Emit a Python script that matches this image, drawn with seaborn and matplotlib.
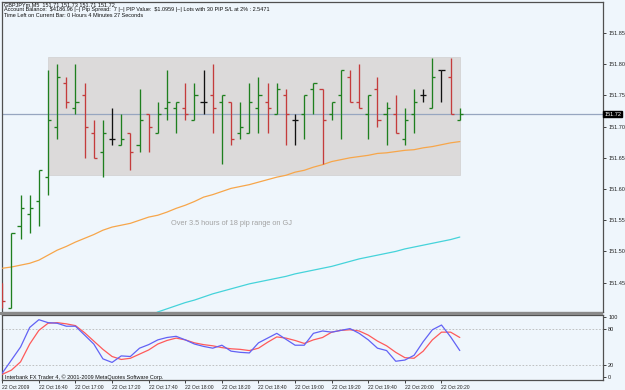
import numpy as np
import pandas as pd
import matplotlib
matplotlib.use("Agg")
import matplotlib.pyplot as plt
from matplotlib.patches import Rectangle
import seaborn as sns

# ---------------- data ----------------
bar_times = ["16:20", "16:25", "16:30", "16:35", "16:40", "16:45", "16:50", "16:55",
             "17:00", "17:05", "17:10", "17:15", "17:20", "17:25", "17:30", "17:35",
             "17:40", "17:45", "17:50", "17:55", "18:00", "18:05", "18:10", "18:15",
             "18:20", "18:25", "18:30", "18:35", "18:40", "18:45", "18:50", "18:55",
             "19:00", "19:05", "19:10", "19:15", "19:20", "19:25", "19:30", "19:35",
             "19:40", "19:45", "19:50", "19:55", "20:00", "20:05", "20:10", "20:15",
             "20:20", "20:25", "20:30"]
opens = [151.45, 151.41, 151.54, 151.56, 151.58, 151.62, 151.70, 151.77, 151.73, 151.75,
         151.69, 151.66, 151.68, 151.67, 151.69, 151.67, 151.72, 151.69, 151.73, 151.73,
         151.73, 151.71, 151.74, 151.75, 151.74, 151.74, 151.69, 151.69, 151.73, 151.74,
         151.72, 151.75, 151.71, 151.72, 151.76, 151.76, 151.72, 151.75, 151.78, 151.74,
         151.72, 151.76, 151.72, 151.72, 151.68, 151.72, 151.75, 151.73, 151.79, 151.78,
         151.71]
highs = [151.45, 151.53, 151.59, 151.59, 151.63, 151.79, 151.80, 151.78, 151.80, 151.77,
         151.71, 151.71, 151.73, 151.72, 151.69, 151.76, 151.72, 151.74, 151.79, 151.74,
         151.77, 151.77, 151.79, 151.80, 151.75, 151.74, 151.74, 151.77, 151.78, 151.77,
         151.77, 151.76, 151.72, 151.75, 151.77, 151.76, 151.74, 151.79, 151.79, 151.80,
         151.75, 151.78, 151.74, 151.75, 151.73, 151.76, 151.76, 151.81, 151.79, 151.81,
         151.73]
lows = [151.41, 151.41, 151.52, 151.53, 151.54, 151.59, 151.68, 151.73, 151.72, 151.65,
        151.65, 151.62, 151.67, 151.67, 151.63, 151.66, 151.66, 151.69, 151.71, 151.69,
        151.71, 151.71, 151.72, 151.69, 151.64, 151.67, 151.68, 151.69, 151.69, 151.69,
        151.72, 151.67, 151.67, 151.68, 151.72, 151.64, 151.71, 151.68, 151.74, 151.73,
        151.68, 151.70, 151.67, 151.69, 151.67, 151.69, 151.74, 151.73, 151.74, 151.72,
        151.71]
closes = [151.42, 151.53, 151.57, 151.57, 151.63, 151.71, 151.78, 151.74, 151.74, 151.70,
          151.65, 151.69, 151.68, 151.68, 151.66, 151.71, 151.70, 151.72, 151.74, 151.74,
          151.72, 151.75, 151.74, 151.73, 151.75, 151.68, 151.70, 151.74, 151.75, 151.73,
          151.76, 151.72, 151.71, 151.75, 151.77, 151.71, 151.74, 151.79, 151.74, 151.73,
          151.75, 151.71, 151.73, 151.69, 151.71, 151.74, 151.75, 151.78, 151.79, 151.72,
          151.72]
ma_orange = [151.473, 151.475, 151.478, 151.481, 151.486, 151.494, 151.502, 151.508, 151.515, 151.521,
             151.527, 151.534, 151.539, 151.542, 151.545, 151.550, 151.555, 151.558, 151.563, 151.569,
             151.574, 151.580, 151.587, 151.591, 151.596, 151.601, 151.604, 151.607, 151.611, 151.615,
             151.619, 151.622, 151.627, 151.630, 151.635, 151.639, 151.644, 151.647, 151.650, 151.652,
             151.654, 151.657, 151.658, 151.660, 151.662, 151.663, 151.666, 151.668, 151.671, 151.674,
             151.676]
nan = float("nan")
ma_cyan = [nan] * 16 + [
    151.396, 151.403, 151.408, 151.413, 151.418, 151.422, 151.427, 151.432, 151.436, 151.440,
    151.444, 151.448, 151.451, 151.454, 151.457, 151.460, 151.464, 151.467, 151.470, 151.473,
    151.476, 151.480, 151.484, 151.488, 151.491, 151.494, 151.497, 151.500, 151.504, 151.507,
    151.510, 151.513, 151.516, 151.519, 151.523]
stoch_main = [6, 28, 50, 83, 96, 91, 90, 85, 85, 70,
              55, 30, 24, 35, 34, 48, 54, 62, 66, 68,
              62, 55, 51, 48, 53, 43, 41, 40, 57, 65,
              73, 63, 53, 53, 73, 77, 75, 78, 81, 73,
              62, 48, 44, 26, 28, 36, 59, 79, 87, 67,
              44]
stoch_signal = [4, 11, 25, 55, 78, 90, 91, 89, 86, 74,
                60, 46, 34, 29, 31, 38, 45, 55, 61, 65,
                62, 57, 54, 52, 49, 47, 46, 44, 48, 58,
                67, 65, 61, 56, 62, 66, 75, 78, 79, 77,
                70, 60, 52, 41, 32, 31, 43, 62, 75, 75,
                66]
price_ticks = [151.45, 151.50, 151.55, 151.60, 151.65, 151.70, 151.75, 151.80, 151.85]
stoch_ticks = [0, 20, 80, 100]
stoch_levels = [20, 80]
time_tick_bars = [0, 4, 8, 12, 16, 20, 24, 28, 32, 36, 40, 44, 48]
time_tick_labels = ["22 Oct 2009", "22 Oct 16:40", "22 Oct 17:00", "22 Oct 17:20",
                    "22 Oct 17:40", "22 Oct 18:00", "22 Oct 18:20", "22 Oct 18:40",
                    "22 Oct 19:00", "22 Oct 19:20", "22 Oct 19:40", "22 Oct 20:00",
                    "22 Oct 20:20"]
range_box = {"start": 5, "end": 50, "low": 151.622, "high": 151.812}
current_price = 151.72
header_lines = ["GBPJPYm,M5  151.71 151.73 151.71 151.72",
                "Account Balance:  $4186.96 |~| Pip Spread:  7 |~| PIP Value:  $1.0959 |~| Lots with 30 PIP S/L at 2% : 2.5471",
                "Time Left on Current Bar: 0 Hours 4 Minutes 27 Seconds"]
note_text = "Over 3.5 hours of 18 pip range on GJ"
copyright_text = "Interbank FX Trader 4, \u00a9 2001-2009 MetaQuotes Software Corp."

# ---------------- style ----------------
sns.set_theme(style="white")
plt.rcParams['font.family'] = ['Liberation Sans', 'DejaVu Sans']
plt.rcParams['text.parse_math'] = False
BG = "#EFF6FC"
GREEN = "#1f7f1f"
RED = "#c43c3c"
FS = 4.0
FS_T = 3.6

W, H = 625, 390
fig = plt.figure(figsize=(W / 100, H / 100), dpi=100, facecolor=BG)


def rect(x0, y0, x1, y1):
    return [x0 / W, 1 - y1 / H, (x1 - x0) / W, (y1 - y0) / H]


ax = fig.add_axes(rect(2, 2, 603, 312))
ax2 = fig.add_axes(rect(2, 315, 603, 380))

df = pd.DataFrame({"bar": np.arange(len(opens)), "time": bar_times, "open": opens,
                   "high": highs, "low": lows, "close": closes,
                   "ma_orange": ma_orange, "ma_cyan": ma_cyan,
                   "main": stoch_main, "signal": stoch_signal})

for a in (ax, ax2):
    a.set_facecolor(BG)
    for s in a.spines.values():
        s.set_color("#505050")
        s.set_linewidth(0.9)

# range box
ax.add_patch(Rectangle((range_box["start"], range_box["low"]),
                       range_box["end"] - range_box["start"],
                       range_box["high"] - range_box["low"],
                       facecolor="#DCDADA", edgecolor="#D0D0D0", lw=0.5, zorder=1))

# current price line
ax.axhline(current_price, color="#97A6C0", lw=0.9, zorder=2)

# moving averages via seaborn
sns.lineplot(data=df, x="bar", y="ma_orange", ax=ax, color="#F7A64A", lw=0.9, zorder=3)
sns.lineplot(data=df.dropna(subset=["ma_cyan"]), x="bar", y="ma_cyan", ax=ax,
             color="#45D3DA", lw=0.9, zorder=3)

# OHLC bars
tick = 0.34
for r in df.itertuples():
    if r.close > r.open + 1e-9:
        c = GREEN
    elif r.close < r.open - 1e-9:
        c = RED
    else:
        c = "#111111"
    ax.vlines(r.bar, r.low, r.high, color=c, lw=0.95, zorder=4)
    ax.hlines(r.open, r.bar - tick, r.bar, color=c, lw=0.95, zorder=4)
    ax.hlines(r.close, r.bar, r.bar + tick, color=c, lw=0.95, zorder=4)

ax.set_xlim(-0.03, 65.65)
ax.set_ylim(151.4029, 151.8997)
ax.set_xlabel("")
ax.set_ylabel("")
ax.set_xticks([])
ax.yaxis.tick_right()
ax.set_yticks(price_ticks)
ax.set_yticklabels([f"{p:.2f}" for p in price_ticks])
ax.tick_params(axis="y", length=2.5, width=0.6, pad=1.2, labelsize=FS,
               colors="#222222", right=True, left=False)

# highlighted current price label
ax.text(1.002, current_price, f"{current_price:.2f}", transform=ax.get_yaxis_transform(),
        ha="left", va="center", fontsize=FS, color="white",
        bbox=dict(boxstyle="square,pad=0.15", facecolor="black", edgecolor="black"),
        zorder=10, clip_on=False)

# note text
ax.text(18.4, 151.544, note_text, fontsize=5.3, color="#A3A3A3", ha="left", va="center")

# header
for k, line in enumerate(header_lines):
    fig.text(4 / W, 1 - (4.3 + 5.6 * k) / H, line, fontsize=FS, color="#111111",
             ha="left", va="center")

# separator band
fig.patches.append(Rectangle((0, 1 - 315 / H), 603 / W, 3 / H, transform=fig.transFigure,
                             facecolor="#8A8A8A", edgecolor="none", zorder=5))

# stochastic panel
for lv in stoch_levels:
    ax2.axhline(lv, color="#B8B8B8", lw=0.6, ls=(0, (2, 2)), zorder=1)
sns.lineplot(data=df, x="bar", y="signal", ax=ax2, color="#FF5A5A", lw=0.9, zorder=3)
sns.lineplot(data=df, x="bar", y="main", ax=ax2, color="#6262F5", lw=0.9, zorder=3)
ax2.set_xlim(-0.03, 65.65)
ax2.set_ylim(-5.6, 103.9)
ax2.set_xlabel("")
ax2.set_ylabel("")
ax2.yaxis.tick_right()
ax2.set_yticks(stoch_ticks)
ax2.set_yticklabels([str(v) for v in stoch_ticks])
ax2.tick_params(axis="y", length=2.5, width=0.6, pad=1.2, labelsize=FS,
                colors="#222222", right=True, left=False)
ax2.set_xticks(time_tick_bars)
ax2.set_xticklabels(time_tick_labels)
ax2.tick_params(axis="x", length=2.5, width=0.6, pad=1.0, labelsize=FS_T,
                colors="#222222", bottom=True)
for lab in ax2.get_xticklabels():
    lab.set_horizontalalignment("left")
ax2.text(0.3, -1.5, copyright_text, fontsize=FS, color="#111111", ha="left", va="center")

fig.savefig("out.png", dpi=100, facecolor=BG)
